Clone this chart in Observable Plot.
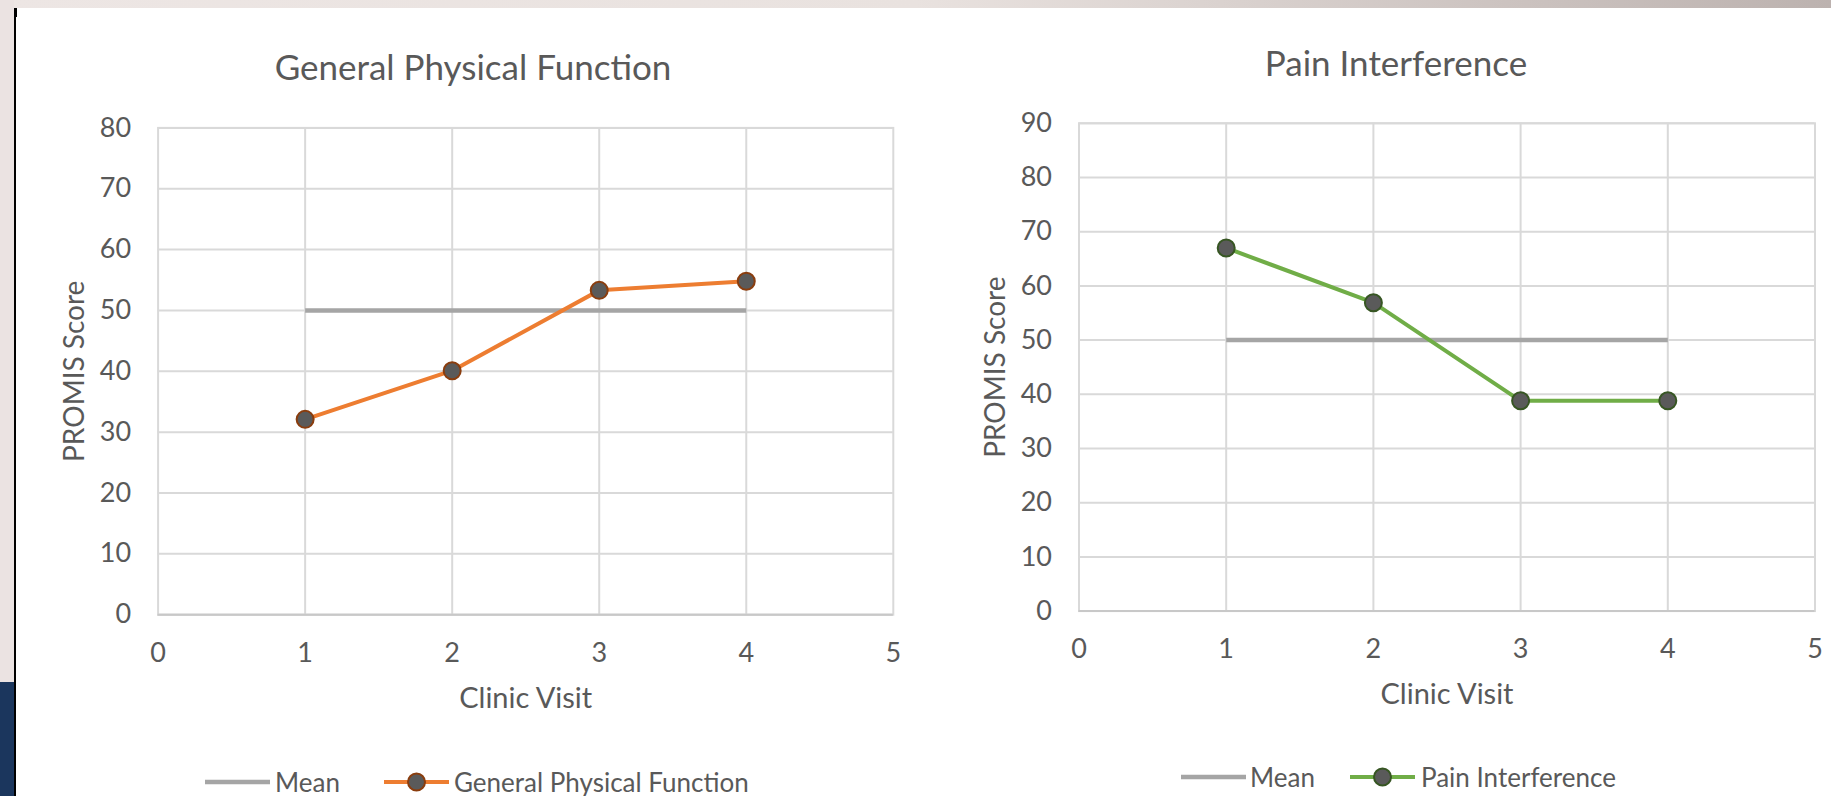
<!DOCTYPE html>
<html>
<head>
<meta charset="utf-8">
<script src="https://cdn.jsdelivr.net/npm/d3@7"></script>
<script src="https://cdn.jsdelivr.net/npm/@observablehq/plot@0.6"></script>
<style>
  html, body { margin: 0; padding: 0; }
  body { width: 1831px; height: 796px; overflow: hidden; background: #fff; position: relative;
         font-family: Lato, "Open Sans", sans-serif; color: #595959; }
  .abs { position: absolute; }
  #topstrip { left: 0; top: 0; width: 1831px; height: 8px; background: linear-gradient(to right, #ede6e4, #e9e2df 50%, #bcb2af); }
  #leftstrip { left: 0; top: 0; width: 14px; height: 682px; background: #ebe3e2; }
  #navy { left: 0; top: 682px; width: 14px; height: 114px; background: #1b365d; }
  #vline { left: 14px; top: 8px; width: 2px; height: 788px; background: #000; }
  #corner { left: 14px; top: 8px; width: 3px; height: 9px; background: #000; }
  .title { font-size: 35px; white-space: nowrap; transform: translate(-50%, -50%); }
  .lgitem { font-size: 26px; white-space: nowrap; transform: translateY(-50%); line-height: 1; }
  .lgitem svg { display: block; }
</style>
</head>
<body>
<div id="topstrip" class="abs"></div>
<div id="leftstrip" class="abs"></div>
<div id="navy" class="abs"></div>
<div id="vline" class="abs"></div>
<div id="corner" class="abs"></div>
<div id="root"></div>
<script>
// ---- data ----
const visits = [1, 2, 3, 4];
const gpfScores = [32.1, 40.1, 53.3, 54.8];
const painScores = [67.0, 56.9, 38.8, 38.8];
const meanScores = [50, 50, 50, 50];
const xTicks = [0, 1, 2, 3, 4, 5];
const gpfYTicks = [0, 10, 20, 30, 40, 50, 60, 70, 80];
const painYTicks = [0, 10, 20, 30, 40, 50, 60, 70, 80, 90];
const gpfTitle = "General Physical Function";
const painTitle = "Pain Interference";
const yLabel = "PROMIS Score";
const xLabel = "Clinic Visit";
const meanLabel = "Mean";

const TEXT = "#595959";
const GRID = "#d9d9d9";
const MEAN = "#a5a5a5";

function addItem(x, y, html) {
  const d = document.createElement("div");
  d.className = "abs lgitem";
  d.style.left = x + "px";
  d.style.top = y + "px";
  d.innerHTML = html;
  document.body.appendChild(d);
}

function makeChart(cfg) {
  const rows = visits.map((v, i) => ({visit: v, score: cfg.scores[i], mean: meanScores[i]}));
  const yMax = cfg.yTicks[cfg.yTicks.length - 1];
  const plot = Plot.plot({
    width: cfg.width,
    height: cfg.height,
    marginLeft: cfg.mL, marginRight: cfg.mR, marginTop: cfg.mT, marginBottom: cfg.mB,
    style: {fontFamily: "Lato, 'Open Sans', sans-serif", fontSize: "27px", color: TEXT, background: "transparent", overflow: "visible"},
    x: {domain: [0, 5], label: null},
    y: {domain: [0, yMax], label: null},
    marks: [
      Plot.gridY(cfg.yTicks, {stroke: GRID, strokeOpacity: 1, strokeWidth: 2}),
      Plot.gridX(visits, {stroke: GRID, strokeOpacity: 1, strokeWidth: 2}),
      Plot.frame({stroke: GRID, strokeWidth: 2}),
      Plot.ruleY([0], {stroke: "#c8c8c8", strokeWidth: 2}),
      Plot.axisX({ticks: xTicks, tickSize: 0, tickPadding: 28, label: null, tickFormat: d => String(d)}),
      Plot.axisY({ticks: cfg.yTicks, tickSize: 0, tickPadding: 27, label: null, tickFormat: d => String(d)}),
      Plot.line(rows, {x: "visit", y: "mean", stroke: MEAN, strokeWidth: 4.5, strokeLinecap: "butt"}),
      Plot.line(rows, {x: "visit", y: "score", stroke: cfg.color, strokeWidth: 4, strokeLinejoin: "round"}),
      Plot.dot(rows, {x: "visit", y: "score", r: 8.5, fill: "#5a5a5a", stroke: cfg.dotStroke, strokeWidth: 2}),
      Plot.text([yLabel], {frameAnchor: "left", dx: -83, rotate: -90, text: d => d, fontSize: 28, fill: TEXT, textAnchor: "middle", lineAnchor: "middle"}),
      Plot.text([xLabel], {frameAnchor: "bottom", dy: 84, text: d => d, fontSize: 29, fill: TEXT, textAnchor: "middle", lineAnchor: "middle"})
    ]
  });
  const wrap = document.createElement("div");
  wrap.className = "abs";
  wrap.style.left = cfg.left + "px";
  wrap.style.top = cfg.top + "px";
  wrap.appendChild(plot);
  document.getElementById("root").appendChild(wrap);

  // title
  const t = document.createElement("div");
  t.className = "abs title";
  t.style.left = cfg.titleX + "px";
  t.style.top = cfg.titleY + "px";
  t.textContent = cfg.title;
  document.body.appendChild(t);

  // legend
  const L = cfg.legend;
  addItem(L[0], cfg.legendY, `<svg width="65" height="20"><line x1="0" x2="65" y1="10" y2="10" stroke="${MEAN}" stroke-width="4.5"/></svg>`);
  addItem(L[1], cfg.legendY, meanLabel);
  addItem(L[2], cfg.legendY, `<svg width="65" height="22"><line x1="0" x2="65" y1="11" y2="11" stroke="${cfg.color}" stroke-width="4"/><circle cx="32.5" cy="11" r="8.5" fill="#5a5a5a" stroke="${cfg.dotStroke}" stroke-width="2"/></svg>`);
  addItem(L[3], cfg.legendY, cfg.title);
}

makeChart({
  scores: gpfScores, yTicks: gpfYTicks, color: "#ed7d31", dotStroke: "#8a3d0e", title: gpfTitle,
  left: 20, top: 100, width: 905, height: 630,
  mL: 137.6, mR: 32.2, mT: 27.4, mB: 115.8,
  titleX: 473, titleY: 66, legendY: 782, legend: [205, 275, 384, 454]
});

makeChart({
  scores: painScores, yTicks: painYTicks, color: "#70ad47", dotStroke: "#375623", title: painTitle,
  left: 940, top: 95, width: 891, height: 635,
  mL: 138.5, mR: 16.5, mT: 27.8, mB: 119.4,
  titleX: 1396, titleY: 62, legendY: 777, legend: [1181, 1250, 1350, 1421]
});
</script>
</body>
</html>
